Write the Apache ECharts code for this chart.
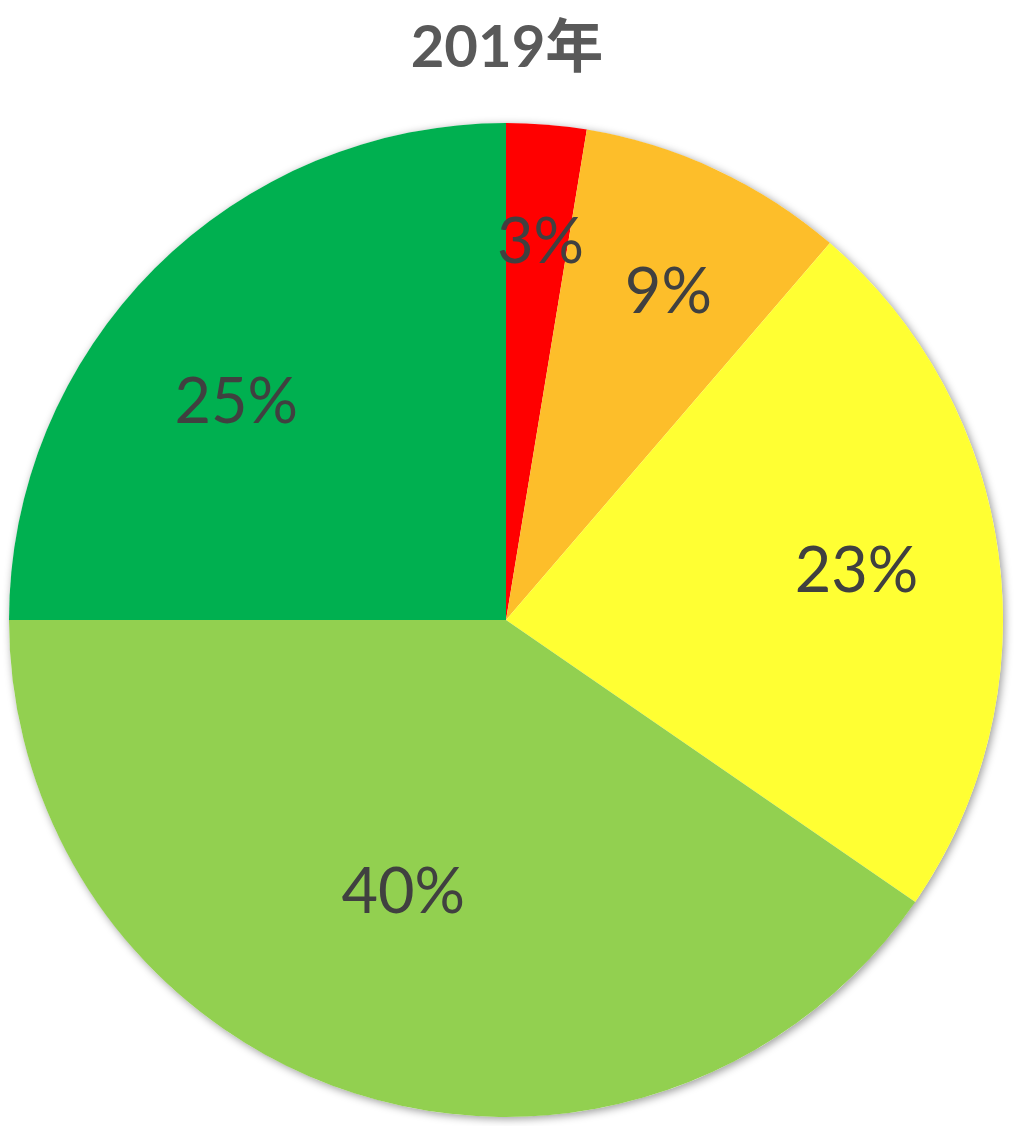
<!DOCTYPE html>
<html>
<head>
<meta charset="utf-8">
<script src="https://cdn.jsdelivr.net/npm/echarts@6/dist/echarts.min.js"></script>
<style>
html,body{margin:0;padding:0;background:#fff;}
#chart{width:1014px;height:1126px;}
</style>
</head>
<body>
<div id="chart"></div>
<script>
// ---- data ----
const titleText = '2019年';
const categories = ['A', 'B', 'C', 'D', 'E'];
const values = [2.6, 8.7, 23.3, 40.4, 25.0];
const labels = ['3%', '9%', '23%', '40%', '25%'];
const colors = ['#FF0000', '#FDBE2A', '#FFFF33', '#92D050', '#00B050'];

// label nudges (style only, relative to default inside position)
const labelNudge = [[14, -127], [56, -99], [101, -16], [-28, 33], [-92, -39]];

const total = values.reduce((a, b) => a + b, 0);

const chart = echarts.init(document.getElementById('chart'));
chart.setOption({
  animation: false,
  backgroundColor: '#ffffff',
  title: {
    text: titleText,
    left: 'center',
    top: 14,
    textStyle: {
      fontFamily: 'Lato, "Noto Sans CJK SC", sans-serif',
      fontWeight: 'bold',
      fontSize: 58,
      color: '#595959'
    }
  },
  series: [{
    // outer shadow disc
    type: 'pie',
    silent: true,
    center: ['506px', '620px'],
    radius: [0, 497],
    label: { show: false },
    labelLine: { show: false },
    itemStyle: {
      color: '#ffffff',
      shadowBlur: 8,
      shadowColor: 'rgba(0,0,0,0.4)',
      shadowOffsetX: 2,
      shadowOffsetY: 2
    },
    emphasis: { disabled: true },
    data: [{ name: 'bg', value: total }]
  }, {
    type: 'pie',
    center: ['506px', '620px'],
    radius: [0, 497],
    startAngle: 90,
    clockwise: true,
    avoidLabelOverlap: false,
    itemStyle: { borderWidth: 0 },
    label: {
      show: true,
      position: 'inside',
      fontFamily: 'Lato, "Noto Sans", sans-serif',
      fontSize: 63,
      color: '#404040',
      formatter: p => labels[p.dataIndex]
    },
    labelLine: { show: false },
    labelLayout: p => ({ dx: labelNudge[p.dataIndex][0], dy: labelNudge[p.dataIndex][1] }),
    emphasis: { disabled: true },
    data: categories.map((c, i) => ({ name: c, value: values[i], itemStyle: { color: colors[i] } }))
  }]
});
</script>
</body>
</html>
